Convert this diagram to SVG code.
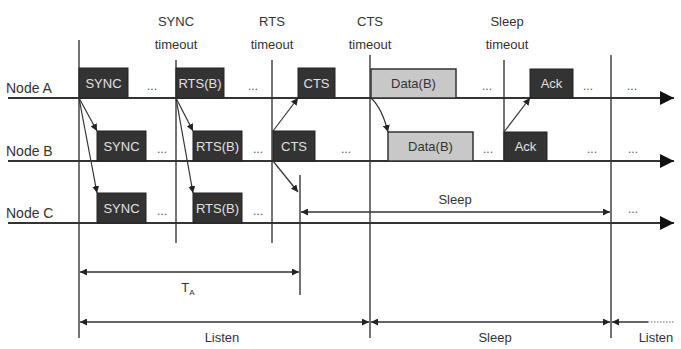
<svg xmlns="http://www.w3.org/2000/svg" width="681" height="349" viewBox="0 0 681 349">
<defs>
<marker id="ah" viewBox="0 0 10 10" refX="10" refY="5" markerWidth="7" markerHeight="7" markerUnits="userSpaceOnUse" orient="auto-start-reverse"><path d="M0,0 L10,5 L0,10 z" fill="#222"/></marker>
<marker id="big" viewBox="0 0 10 10" refX="10" refY="5" markerWidth="14" markerHeight="14" markerUnits="userSpaceOnUse" orient="auto"><path d="M0,0 L10,5 L0,10 z" fill="#111"/></marker>
</defs>
<style>
text{font-family:"Liberation Sans",Arial,sans-serif;fill:#333}
.lbl{font-size:14px}
.top{font-size:13px;text-anchor:middle}
.bx{fill:#333;stroke:#222;stroke-width:1}
.lt{fill:#c8c8c8;stroke:#333;stroke-width:1.5}
.bt{font-size:13px;fill:#e0e0e0;text-anchor:middle}
.dt{font-size:13px;fill:#333;text-anchor:middle}
.dots{font-size:12px;fill:#555;text-anchor:middle}
.tl{stroke:#333;stroke-width:2.2;fill:none}
.vl{stroke:#444;stroke-width:1.5;fill:none}
.cn{stroke:#333;stroke-width:1.2;fill:none}
.dim{stroke:#333;stroke-width:1.5;fill:none}
</style>
<rect width="681" height="349" fill="#fff"/>

<g id="labels">
<text class="lbl" x="6" y="93">Node A</text>
<text class="lbl" x="6" y="156">Node B</text>
<text class="lbl" x="6" y="218">Node C</text>
<text class="top" x="176" y="26">SYNC</text>
<text class="top" x="176" y="49">timeout</text>
<text class="top" x="272" y="26">RTS</text>
<text class="top" x="272" y="49">timeout</text>
<text class="top" x="370" y="26">CTS</text>
<text class="top" x="370" y="49">timeout</text>
<text class="top" x="507" y="26">Sleep</text>
<text class="top" x="507" y="49">timeout</text>
</g>

<g id="verticals">
<line class="vl" x1="79" y1="40" x2="79" y2="338"/>
<line class="vl" x1="176" y1="60" x2="176" y2="243"/>
<line class="vl" x1="272" y1="60" x2="272" y2="243"/>
<line class="vl" x1="300" y1="175" x2="300" y2="295"/>
<line class="vl" x1="370" y1="55" x2="370" y2="338"/>
<line class="vl" x1="504" y1="60" x2="504" y2="160"/>
<line class="vl" x1="611" y1="55" x2="611" y2="338"/>
</g>

<g id="timelines">
<line class="tl" x1="8" y1="98" x2="674" y2="98" marker-end="url(#big)"/>
<line class="tl" x1="8" y1="161" x2="674" y2="161" marker-end="url(#big)"/>
<line class="tl" x1="8" y1="223" x2="674" y2="223" marker-end="url(#big)"/>
</g>

<g id="nodeA">
<g id="a-sync"><rect class="bx" x="79" y="68" width="49" height="30"/><text class="bt" x="103.5" y="88">SYNC</text></g>
<g id="a-rts"><rect class="bx" x="176" y="68" width="48" height="30"/><text class="bt" x="200" y="88">RTS(B)</text></g>
<g id="a-cts"><rect class="bx" x="298" y="68" width="37" height="30"/><text class="bt" x="316.5" y="88">CTS</text></g>
<g id="a-data"><rect class="lt" x="371" y="69" width="85" height="29"/><text class="dt" x="413.5" y="88">Data(B)</text></g>
<g id="a-ack"><rect class="bx" x="530" y="69" width="43" height="29"/><text class="bt" x="551.5" y="88">Ack</text></g>
<text class="dots" x="152" y="90">...</text>
<text class="dots" x="253" y="90">...</text>
<text class="dots" x="487" y="90">...</text>
<text class="dots" x="588" y="90">...</text>
<text class="dots" x="632" y="90">...</text>
</g>

<g id="nodeB">
<g id="b-sync"><rect class="bx" x="97" y="131" width="49" height="30"/><text class="bt" x="121.5" y="151">SYNC</text></g>
<g id="b-rts"><rect class="bx" x="193" y="131" width="49" height="30"/><text class="bt" x="217.5" y="151">RTS(B)</text></g>
<g id="b-cts"><rect class="bx" x="273" y="131" width="42" height="30"/><text class="bt" x="294" y="151">CTS</text></g>
<g id="b-data"><rect class="lt" x="388" y="132" width="85" height="29"/><text class="dt" x="430.5" y="151">Data(B)</text></g>
<g id="b-ack"><rect class="bx" x="504" y="132" width="43" height="29"/><text class="bt" x="525.5" y="151">Ack</text></g>
<text class="dots" x="162" y="153">...</text>
<text class="dots" x="258" y="153">...</text>
<text class="dots" x="346" y="153">...</text>
<text class="dots" x="488" y="153">...</text>
<text class="dots" x="592" y="153">...</text>
<text class="dots" x="633" y="153">...</text>
</g>

<g id="nodeC">
<g id="c-sync"><rect class="bx" x="97" y="193" width="49" height="30"/><text class="bt" x="121.5" y="213">SYNC</text></g>
<g id="c-rts"><rect class="bx" x="193" y="193" width="49" height="30"/><text class="bt" x="217.5" y="213">RTS(B)</text></g>
<text class="dots" x="162" y="215">...</text>
<text class="dots" x="258" y="215">...</text>
<text class="dots" x="633" y="213">...</text>
<text class="top" x="455" y="204">Sleep</text>
</g>

<g id="connectors">
<line class="cn" x1="79" y1="98" x2="97" y2="131" marker-end="url(#ah)"/>
<line class="cn" x1="79" y1="98" x2="97" y2="193" marker-end="url(#ah)"/>
<line class="cn" x1="176" y1="98" x2="193" y2="131" marker-end="url(#ah)"/>
<line class="cn" x1="176" y1="98" x2="193" y2="193" marker-end="url(#ah)"/>
<line class="cn" x1="273" y1="131" x2="298" y2="98" marker-end="url(#ah)"/>
<line class="cn" x1="273" y1="161" x2="298" y2="192" marker-end="url(#ah)"/>
<path class="cn" d="M371,98 Q382,108 388,132" marker-end="url(#ah)"/>
<line class="cn" x1="504" y1="132" x2="530" y2="98" marker-end="url(#ah)"/>
<line class="dim" x1="301" y1="212" x2="610" y2="212" marker-start="url(#ah)" marker-end="url(#ah)"/>
</g>

<g id="dimensions">
<line class="dim" x1="80" y1="272" x2="299" y2="272" marker-start="url(#ah)" marker-end="url(#ah)"/>
<text class="top" x="188" y="292">T<tspan font-size="8" dy="3">A</tspan></text>
<line class="dim" x1="80" y1="322" x2="369" y2="322" marker-start="url(#ah)" marker-end="url(#ah)"/>
<text class="top" x="222" y="342">Listen</text>
<line class="dim" x1="371" y1="322" x2="610" y2="322" marker-start="url(#ah)" marker-end="url(#ah)"/>
<text class="top" x="495" y="342">Sleep</text>
<line class="dim" x1="612" y1="322" x2="648" y2="322" marker-start="url(#ah)"/>
<line x1="648" y1="322" x2="675" y2="322" stroke="#666" stroke-width="1.2" stroke-dasharray="1.5,1.5"/>
<text class="top" x="656" y="342">Listen</text>
</g>
</svg>
